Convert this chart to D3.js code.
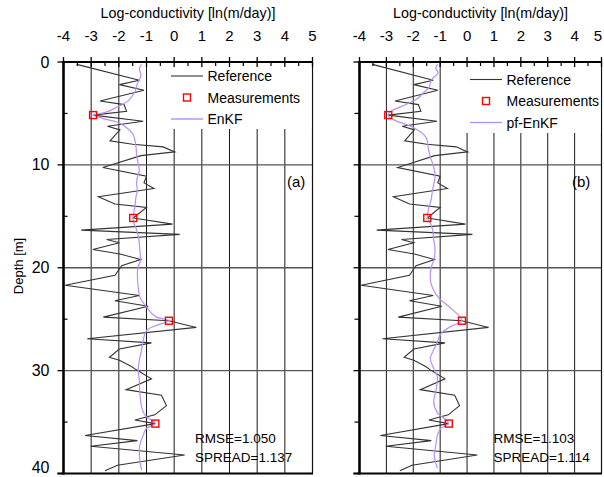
<!DOCTYPE html>
<html><head><meta charset="utf-8">
<script src="https://cdn.jsdelivr.net/npm/d3@7"></script>
<style>body{margin:0;background:#fff}svg{display:block;font-family:"Liberation Sans",Arial,sans-serif}</style>
</head><body>
<svg id="c" width="604" height="477"></svg>
<script>
// ---- data ----
const refDepth = [0.23,1.78,2.2,2.75,3.79,4.14,4.79,5.16,5.76,6.25,6.6,7.67,8.0,8.25,8.74,9.1,10.26,11.1,11.75,12.3,13.1,13.8,14.14,15.16,15.76,16.34,16.76,17.25,17.57,18.22,18.67,19.2,19.8,20.74,21.7,22.7,23.2,23.75,24.8,25.15,25.8,26.9,27.3,27.9,28.7,29.0,29.6,29.9,30.8,31.85,32.4,33.4,34.3,34.8,35.15,36.3,36.8,37.35,38.2,39.2,39.74];
const refValue = [-3.52,-1.26,-1.98,-1.09,-2.68,-1.81,-1.72,-2.93,-1.12,-2.41,-1.96,-2.32,-1.5,-0.4,0.02,-1.2,-2.58,-1.0,-1.09,-0.73,-2.74,-2.14,-1.0,-1.48,-0.06,-3.36,0.2,-2.44,-1.98,-2.94,-1.96,-1.21,-1.9,-2.14,-3.94,-1.26,-2.14,-0.94,-2.56,-0.19,0.8,-3.14,-0.82,-1.98,-2.34,-1.98,-1.54,-1.38,-0.82,-1.74,-0.46,-0.28,-0.7,-1.42,-0.68,-3.22,-1.33,-3.02,0.38,-2.05,-2.5];

const measDepth = [5.16,15.16,25.15,35.15];
const measValue = [-2.93,-1.48,-0.19,-0.68];

const enkfDepth = [0.23,0.65,1.3,2.1,2.9,3.4,3.9,4.4,4.95,5.16,5.5,5.83,6.4,6.96,7.6,8.25,8.9,9.9,10.5,11.2,11.8,12.5,13.1,14.1,14.9,15.16,15.7,16.3,16.9,17.6,18.3,19.2,19.9,20.6,21.9,22.85,23.8,24.8,25.15,25.6,26.1,27.05,28.0,29.0,29.97,30.94,32.2,33.5,34.5,35.15,35.6,36.3,36.9,37.7,38.7,39.7];
const enkfValue = [-1.18,-1.26,-1.2,-1.33,-1.42,-1.54,-1.72,-2.08,-2.56,-2.92,-2.56,-2.08,-1.72,-1.5,-1.42,-1.38,-1.36,-1.3,-1.26,-1.33,-1.36,-1.33,-1.38,-1.42,-1.48,-1.49,-1.45,-1.36,-1.3,-1.26,-1.24,-1.21,-1.3,-1.33,-1.3,-1.24,-1.0,-0.64,-0.19,-0.64,-1.0,-1.12,-1.18,-1.26,-1.3,-1.26,-1.24,-1.18,-1.0,-0.68,-1.0,-1.12,-1.21,-1.26,-1.24,-1.18];

const pfDepth = [0.23,0.65,1.0,1.77,2.42,2.9,3.65,4.2,4.68,5.16,5.65,6.13,6.6,7.1,7.74,8.4,9.2,10.2,11.1,12.4,13.4,14.35,15.16,15.65,16.3,17.26,18.2,19.1,20.06,21.0,22.0,23.0,23.95,25.15,25.7,26.4,27.2,28.2,28.8,29.8,30.7,32.0,33.0,34.1,35.15,35.6,36.25,37.2,38.2,39.5];
const pfValue = [-1.10,-1.16,-1.08,-1.34,-1.40,-1.59,-1.90,-2.33,-2.76,-2.95,-2.70,-2.21,-1.84,-1.59,-1.47,-1.44,-1.37,-1.24,-1.19,-1.28,-1.34,-1.44,-1.47,-1.37,-1.28,-1.24,-1.19,-1.22,-1.34,-1.37,-1.28,-1.03,-0.6,-0.19,-0.6,-0.97,-1.1,-1.28,-1.37,-1.24,-1.1,-1.16,-1.24,-1.1,-0.69,-0.97,-1.1,-1.16,-1.22,-1.1];

const xTicks = [-4,-3,-2,-1,0,1,2,3,4,5];
const yTicks = [0,10,20,30,40];
const xTitle = "Log-conductivity [ln(m/day)]";
const yTitle = "Depth [m]";

const panels = [
  {x0:63.5, x1:312.5, est:"EnKF", estD:enkfDepth, estV:enkfValue, tag:"(a)", tagX:287,
   rmse:"RMSE=1.050", spread:"SPREAD=1.137", statX:195, yLabels:true,
   leg:{bx:155, by:129, lx:171, ty:[76,97.5,119]}},
  {x0:359.5, x1:601.5, est:"pf-EnKF", estD:pfDepth, estV:pfValue, tag:"(b)", tagX:572,
   rmse:"RMSE=1.103", spread:"SPREAD=1.114", statX:493.5, yLabels:false,
   leg:{bx:450, by:133, lx:470, ty:[79.5,101,122.5]}}
];

const svg = d3.select("#c");
const y = d3.scaleLinear().domain([0,40]).range([62,473.5]);
const refColor = "#333", enkfColor = "#b78ff7", measColor = "#ff0000";

panels.forEach(p => {
  const x = d3.scaleLinear().domain([-4,5]).range([p.x0,p.x1]);
  const g = svg.append("g");
  // vertical grid
  g.selectAll(".vg").data(d3.range(-3,5)).enter().append("line")
    .attr("x1",d=>x(d)).attr("x2",d=>x(d)).attr("y1",y(0)).attr("y2",y(40))
    .attr("stroke","#1a1a1a").attr("stroke-width",1);
  // horizontal grid
  g.selectAll(".hg").data([10,20,30]).enter().append("line")
    .attr("x1",x(-4)).attr("x2",x(5)).attr("y1",d=>y(d)).attr("y2",d=>y(d))
    .attr("stroke","#555").attr("stroke-width",1.3);
  // right border
  g.append("line").attr("x1",x(5)).attr("x2",x(5)).attr("y1",y(0)).attr("y2",y(40))
    .attr("stroke","#111").attr("stroke-width",1.2);
  // legend background
  g.append("rect").attr("x",p.leg.bx).attr("y",y(0)+1).attr("width",x(5)-p.leg.bx-1)
    .attr("height",p.leg.by-y(0)-1).attr("fill","#fff");

  const line = d3.line().x(d=>x(d[1])).y(d=>y(d[0]));
  // reference
  g.append("path").datum(refDepth.map((d,i)=>[d,refValue[i]])).attr("d",line)
    .attr("fill","none").attr("stroke",refColor).attr("stroke-width",1.1);
  // estimate
  const smooth = d3.line().curve(d3.curveMonotoneY).x(d=>x(d[1])).y(d=>y(d[0]));
  g.append("path").datum(p.estD.map((d,i)=>[d,p.estV[i]])).attr("d",smooth)
    .attr("fill","none").attr("stroke",enkfColor).attr("stroke-width",1.2);
  // measurements
  g.selectAll(".m").data(measDepth.map((d,i)=>[d,measValue[i]])).enter().append("rect")
    .attr("x",d=>x(d[1])-3.5).attr("y",d=>y(d[0])-3.5).attr("width",7).attr("height",7)
    .attr("fill","none").attr("stroke",measColor).attr("stroke-width",1.4);

  // axes
  g.append("line").attr("x1",x(-4)-1.5).attr("x2",x(5)+0.5).attr("y1",y(0)).attr("y2",y(0))
    .attr("stroke","#000").attr("stroke-width",2);
  g.append("line").attr("x1",x(-4)-6).attr("x2",x(5)+0.5).attr("y1",y(40)).attr("y2",y(40))
    .attr("stroke","#000").attr("stroke-width",2);
  g.append("line").attr("x1",x(-4)).attr("x2",x(-4)).attr("y1",y(0)-1).attr("y2",y(40)+1)
    .attr("stroke","#000").attr("stroke-width",2.6);
  // top ticks
  g.selectAll(".tM").data(xTicks).enter().append("line")
    .attr("x1",d=>x(d)).attr("x2",d=>x(d)).attr("y1",y(0)-5).attr("y2",y(0)+5)
    .attr("stroke","#000").attr("stroke-width",1.3);
  g.selectAll(".tm").data(d3.range(-3.5,5,1)).enter().append("line")
    .attr("x1",d=>x(d)).attr("x2",d=>x(d)).attr("y1",y(0)).attr("y2",y(0)+4)
    .attr("stroke","#000").attr("stroke-width",1.2);
  g.selectAll(".xl").data(xTicks).enter().append("text")
    .attr("x",d=>Math.min(x(d), 598)).attr("y",40.5).attr("text-anchor","middle")
    .attr("font-size",15).text(d=>d);
  g.append("text").attr("x",(p.x0+p.x1)/2).attr("y",18).attr("text-anchor","middle")
    .attr("font-size",14.3).text(xTitle);
  // left ticks
  g.selectAll(".lM").data(yTicks).enter().append("line")
    .attr("x1",x(-4)-6).attr("x2",x(-4)).attr("y1",d=>y(d)).attr("y2",d=>y(d))
    .attr("stroke","#000").attr("stroke-width",1.3);
  g.selectAll(".lm").data([5,15,25,35]).enter().append("line")
    .attr("x1",p.yLabels ? x(-4) : x(-4)-5).attr("x2",p.yLabels ? x(-4)+4 : x(-4))
    .attr("y1",d=>y(d)).attr("y2",d=>y(d))
    .attr("stroke","#000").attr("stroke-width",1.2);
  if (p.yLabels) {
    g.selectAll(".yl").data(yTicks).enter().append("text")
      .attr("x",x(-4)-14).attr("y",d=>Math.min(y(d)+5.6, 473)).attr("text-anchor","end")
      .attr("font-size",16).text(d=>d);
    g.append("text").attr("transform","translate(23,266) rotate(-90)")
      .attr("text-anchor","middle").attr("font-size",13).text(yTitle);
  }
  // legend
  const L = p.leg;
  g.append("line").attr("x1",L.lx).attr("x2",L.lx+32).attr("y1",L.ty[0]).attr("y2",L.ty[0])
    .attr("stroke",refColor).attr("stroke-width",1.1);
  g.append("rect").attr("x",L.lx+16-3.5).attr("y",L.ty[1]-3.5).attr("width",7).attr("height",7)
    .attr("fill","none").attr("stroke",measColor).attr("stroke-width",1.4);
  g.append("line").attr("x1",L.lx).attr("x2",L.lx+32).attr("y1",L.ty[2]).attr("y2",L.ty[2])
    .attr("stroke",enkfColor).attr("stroke-width",1.4);
  ["Reference","Measurements",p.est].forEach((t,i)=>{
    g.append("text").attr("x",L.lx+36.5).attr("y",L.ty[i]+5).attr("font-size",14).text(t);
  });
  g.append("text").attr("x",p.tagX).attr("y",186.5).attr("font-size",15).text(p.tag);
  g.append("text").attr("x",p.statX).attr("y",442.5).attr("font-size",13.5).text(p.rmse);
  g.append("text").attr("x",p.statX).attr("y",462).attr("font-size",13.5).text(p.spread);
});
</script>
</body></html>
